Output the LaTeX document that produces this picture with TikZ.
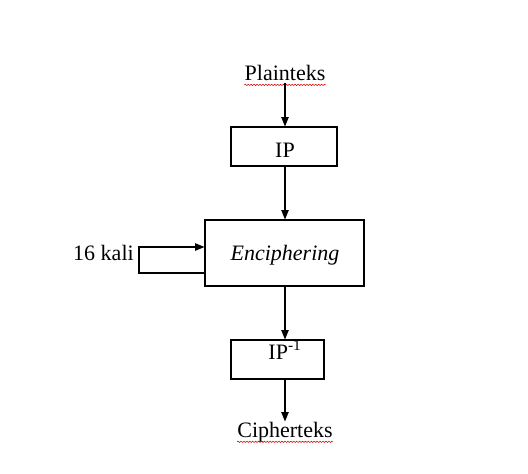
\documentclass[tikz,border=0pt]{standalone}
\usepackage{fontspec}
\setmainfont{Liberation Serif}
\usetikzlibrary{arrows.meta, positioning, decorations.pathmorphing}

\begin{document}
\begin{tikzpicture}[
    x=0.75pt, y=-0.75pt,
    block/.style={draw, line width=0.8pt, inner sep=0pt},
    txt/.style={inner sep=0pt, font=\fontsize{16.5}{18}\selectfont},
    arrow/.style={-{Triangle[width=5.5pt,length=7pt]}, line width=0.8pt},
    spell/.style={red!85!black, line width=0.4pt, decorate, decoration={snake, amplitude=0.5pt, segment length=2.2pt}}
]
    \useasboundingbox[fill=white] (0,0) rectangle (528,474);

    % Boxes
    \node[block, minimum width=79.5pt, minimum height=29.25pt] (ip) at (284,146.5) {};
    \node[block, minimum width=119.25pt, minimum height=49.5pt] (enc) at (284.5,253) {};
    \node[block, minimum width=69.75pt, minimum height=29.25pt] (ipinv) at (277.5,359.5) {};

    % Texts
    \node[txt, anchor=base] (plain) at (285,80.5) {Plainteks};
    \node[txt, anchor=base] (iptxt) at (285,157) {IP};
    \node[txt, anchor=base] (enctxt) at (285,260) {\itshape Enciphering};
    \node[txt, anchor=base] (ipinvtxt) at (285,359) {IP\textsuperscript{-1}};
    \node[txt, anchor=base] (cipher) at (285,437) {Cipherteks};
    \node[txt, anchor=base east] (kali) at (134,260) {16 kali};

    % Spelling marks
    \draw[spell] ([yshift=-3.3pt]plain.base west) -- ([yshift=-3.3pt]plain.base east);
    \draw[spell] ([yshift=-3.6pt]cipher.base west) -- ([yshift=-3.6pt]cipher.base east);

    % Arrows
    \draw[arrow] ([yshift=-1.5pt]plain.south) -- (plain.south |- ip.north);
    \draw[arrow] (ip.south -| plain) -- (enc.north -| plain);
    \draw[arrow] (enc.south -| plain) -- (ipinv.north -| plain);
    \draw[arrow] (ipinv.south -| plain) -- (cipher.north);

    % Loop
    \coordinate (lo) at (139,273);
    \coordinate (hi) at (139,247);
    \draw[arrow] (lo -| enc.west) -- (lo) -- (hi) -- (hi -| enc.west);
\end{tikzpicture}
\end{document}
